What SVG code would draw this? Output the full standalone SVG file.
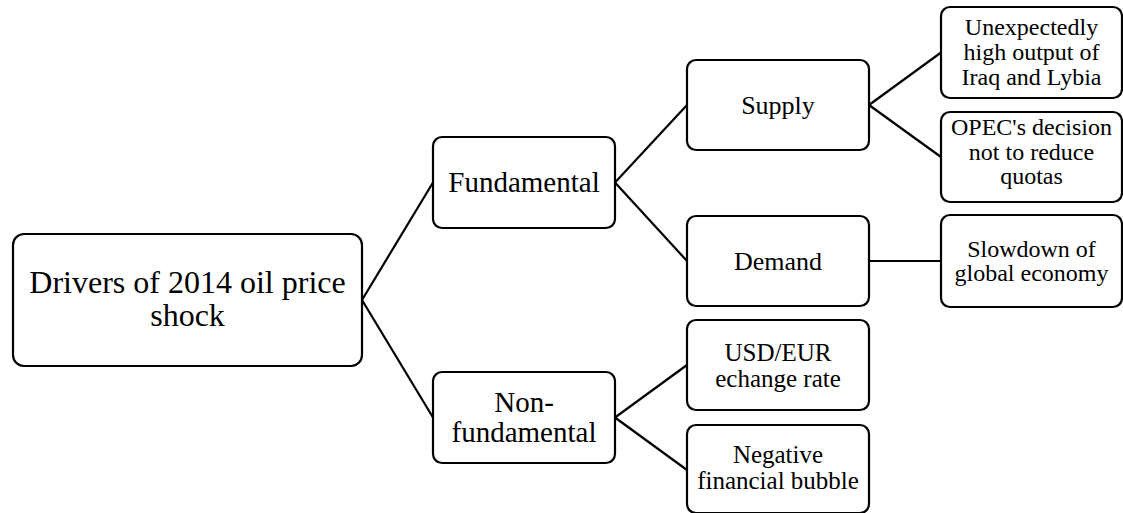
<svg xmlns="http://www.w3.org/2000/svg" width="1123" height="513" viewBox="0 0 1123 513">
<style>
.box{fill:#fff;stroke:#000;stroke-width:2.2}
.ln{stroke:#000;stroke-width:2.2;fill:none}
text{font-family:"Liberation Serif","Times New Roman",serif;fill:#000;text-anchor:middle}
.f32{font-size:32px}
.f29{font-size:29px}
.f26{font-size:26px}
.f25{font-size:25px}
.f24{font-size:24px}
</style>
<rect width="1123" height="513" fill="#fff"/>
<g id="connectors">
<line class="ln" x1="362" y1="300" x2="433" y2="182.5"/>
<line class="ln" x1="362" y1="300" x2="433" y2="417.5"/>
<line class="ln" x1="615" y1="182.5" x2="687" y2="105"/>
<line class="ln" x1="615" y1="182.5" x2="687" y2="261"/>
<line class="ln" x1="869" y1="105" x2="941" y2="52.5"/>
<line class="ln" x1="869" y1="105" x2="941" y2="157"/>
<line class="ln" x1="869" y1="261" x2="941" y2="261"/>
<line class="ln" x1="615" y1="417.5" x2="687" y2="365"/>
<line class="ln" x1="615" y1="417.5" x2="687" y2="470"/>
</g>
<g id="root">
<rect class="box" x="13" y="234" width="349" height="132" rx="11"/>
<text class="f32" x="187.5" y="293">Drivers of 2014 oil price</text>
<text class="f32" x="187.5" y="326">shock</text>
</g>
<g id="fundamental">
<rect class="box" x="433" y="137" width="182" height="91" rx="9"/>
<text class="f29" x="524" y="192">Fundamental</text>
</g>
<g id="nonfundamental">
<rect class="box" x="433" y="372" width="182" height="91" rx="9"/>
<text class="f29" x="524" y="412">Non-</text>
<text class="f29" x="524" y="442">fundamental</text>
</g>
<g id="supply">
<rect class="box" x="687" y="60" width="182" height="90" rx="9"/>
<text class="f26" x="778" y="114">Supply</text>
</g>
<g id="demand">
<rect class="box" x="687" y="216" width="182" height="90" rx="9"/>
<text class="f26" x="778" y="270">Demand</text>
</g>
<g id="usdeur">
<rect class="box" x="687" y="320" width="182" height="90" rx="9"/>
<text class="f25" x="778" y="360.5">USD/EUR</text>
<text class="f25" x="778" y="386.5">echange rate</text>
</g>
<g id="bubble">
<rect class="box" x="687" y="425" width="182" height="88" rx="9"/>
<text class="f25" x="778" y="463">Negative</text>
<text class="f25" x="778" y="489">financial bubble</text>
</g>
<g id="iraq">
<rect class="box" x="941" y="7" width="181" height="91" rx="9"/>
<text class="f24" x="1031.5" y="35">Unexpectedly</text>
<text class="f24" x="1031.5" y="60">high output of</text>
<text class="f24" x="1031.5" y="84.5">Iraq and Lybia</text>
</g>
<g id="opec">
<rect class="box" x="941" y="112" width="181" height="90" rx="9"/>
<text class="f24" x="1031.5" y="135">OPEC's decision</text>
<text class="f24" x="1031.5" y="159.5">not to reduce</text>
<text class="f24" x="1031.5" y="184">quotas</text>
</g>
<g id="slowdown">
<rect class="box" x="941" y="215" width="181" height="92" rx="9"/>
<text class="f24" x="1031.5" y="256.5">Slowdown of</text>
<text class="f24" x="1031.5" y="281">global economy</text>
</g>
</svg>
